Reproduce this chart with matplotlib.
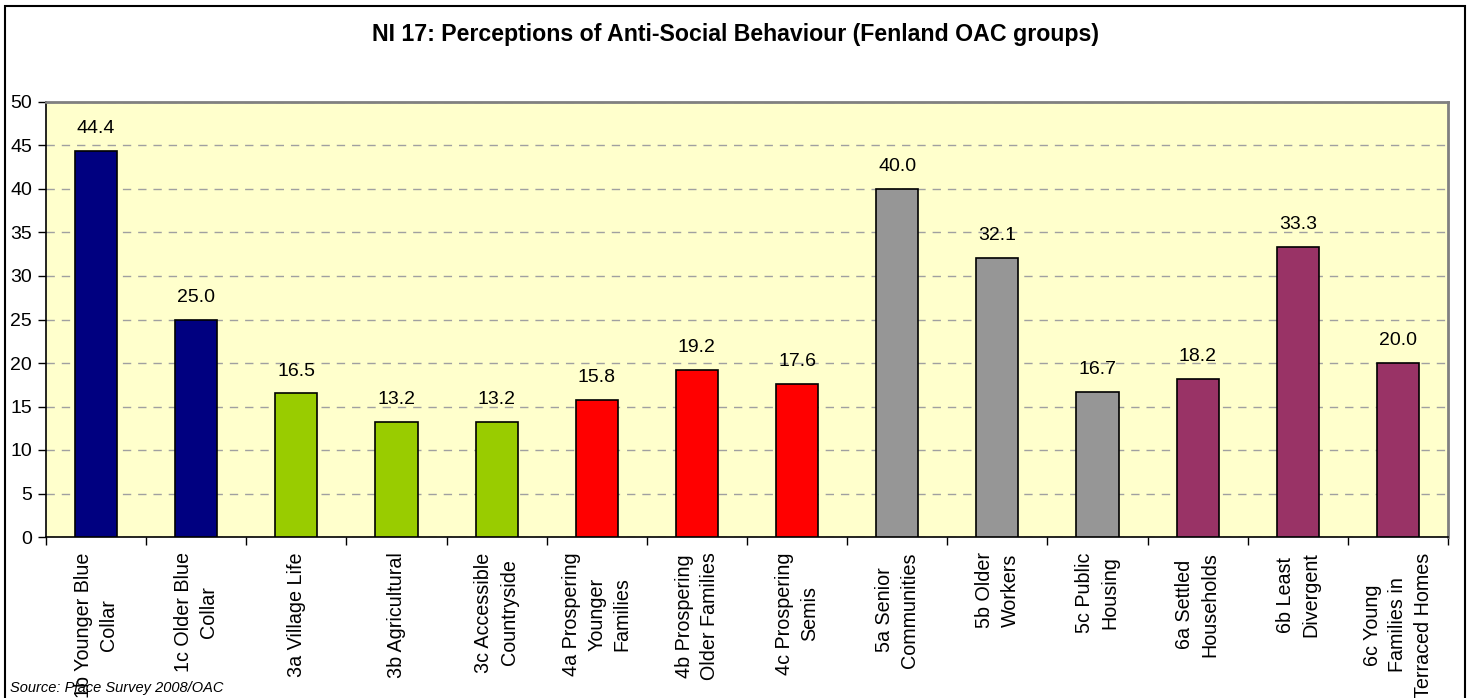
import matplotlib
matplotlib.use("Agg")
import matplotlib.pyplot as plt
import matplotlib.patches as mpatches

plt.rcParams['font.family'] = ['Liberation Sans', 'DejaVu Sans']

# OAC group labels and values (percentage)
groups = ["1b Younger Blue\nCollar", "1c Older Blue\nCollar", "3a Village Life",
          "3b Agricultural", "3c Accessible\nCountryside", "4a Prospering\nYounger\nFamilies",
          "4b Prospering\nOlder Families", "4c Prospering\nSemis", "5a Senior\nCommunities",
          "5b Older\nWorkers", "5c Public\nHousing", "6a Settled\nHouseholds",
          "6b Least\nDivergent", "6c Young\nFamilies in\nTerraced Homes"]
values = [44.4, 25.0, 16.5, 13.2, 13.2, 15.8, 19.2, 17.6, 40.0, 32.1, 16.7, 18.2, 33.3, 20.0]
supergroup = ["1", "1", "3", "3", "3", "4", "4", "4", "5", "5", "5", "6", "6", "6"]
colours = {"1": "#000080", "3": "#99CC00", "4": "#FF0000", "5": "#969696", "6": "#993366"}

fig = plt.figure(figsize=(14.7, 6.98), dpi=100)
ax = fig.add_axes([46 / 1470, 1 - 537 / 698, 1402 / 1470, 435 / 698])
ax.set_facecolor("#FFFFCC")

x = list(range(len(values)))
bar_cols = [colours[g] for g in supergroup]
ax.bar(x, values, width=0.42, color=bar_cols, edgecolor="black", linewidth=1.2, zorder=3)

# value labels above bars
for xi, v in zip(x, values):
    ax.annotate(f"{v:.1f}", (xi, v), xytext=(0, 10), textcoords="offset points",
                ha="center", va="bottom", fontsize=14)

ax.set_xlim(-0.5, len(values) - 0.5)
ax.set_ylim(0, 50)
ax.set_yticks(range(0, 51, 5))
ax.yaxis.grid(True, color="#A0A0A0", linestyle=(0, (6, 5)), linewidth=1, zorder=0)
ax.tick_params(axis="y", labelsize=14, length=6, width=1, direction="out", pad=4)

# category labels at centres, tick marks at boundaries
ax.set_xticks(x)
ax.set_xticklabels(groups, rotation=90, fontsize=14.2, va="top", ha="center",
                   multialignment="center", linespacing=1.42)
ax.tick_params(axis="x", which="major", length=0, pad=11)
ax.set_xticks([i - 0.5 for i in range(len(values) + 1)], minor=True)
ax.tick_params(axis="x", which="minor", length=6, width=1, direction="out")

for s in ["left", "bottom"]:
    ax.spines[s].set_color("black")
    ax.spines[s].set_linewidth(1.2)
for s in ["top", "right"]:
    ax.spines[s].set_color("#808080")
    ax.spines[s].set_linewidth(2)

fig.text(0.5, 1 - 35 / 698, "NI 17: Perceptions of Anti-Social Behaviour (Fenland OAC groups)",
         ha="center", va="center", fontsize=16.7, fontweight="bold")
fig.text(10 / 1470, 1 - 688 / 698, "Source: Place Survey 2008/OAC", ha="left", va="center",
         fontsize=10.5, style="italic")

# outer chart frame
frame = mpatches.Rectangle((5 / 1470, -0.05), 1460 / 1470, 1.05 - 6 / 698,
                           transform=fig.transFigure, fill=False, edgecolor="black",
                           linewidth=1.5, clip_on=False)
fig.patches.append(frame)

fig.savefig("out.png", dpi=100)
